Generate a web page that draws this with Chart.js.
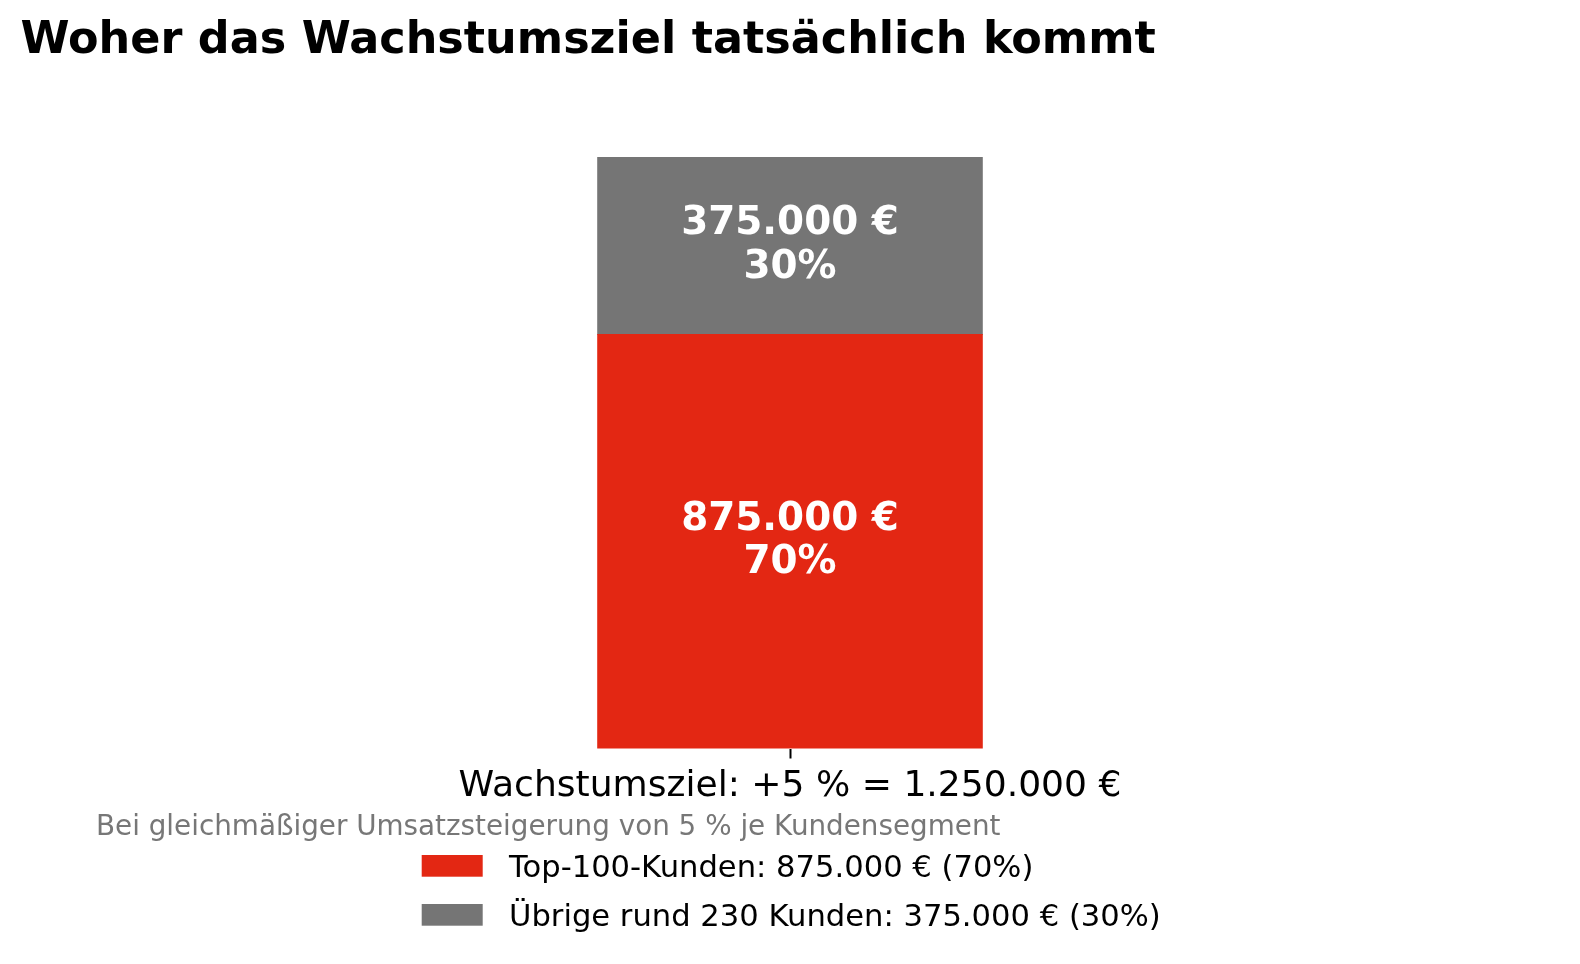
<!DOCTYPE html>
<html lang="de">
<head>
<meta charset="utf-8">
<title>Woher das Wachstumsziel tatsächlich kommt</title>
<script src="https://cdn.jsdelivr.net/npm/chart.js@4.4.1/dist/chart.umd.min.js"></script>
<style>
  html, body { margin: 0; padding: 0; background: #fff; overflow: hidden; }
  canvas { display: block; }
</style>
</head>
<body>
<canvas id="growthChart" width="1580" height="964"></canvas>
<script>
const chartTitle = 'Woher das Wachstumsziel tatsächlich kommt';
const chartNote = 'Bei gleichmäßiger Umsatzsteigerung von 5 % je Kundensegment';
const categories = ['Wachstumsziel: +5 % = 1.250.000 €'];
const segmentNames = ['Top-100-Kunden', 'Übrige rund 230 Kunden'];
const topCustomers = [875000];
const otherCustomers = [375000];
const segmentShares = [70, 30];
const axisMax = 1250000;

const RED = '#E32713';
const GREY = '#757575';
const FONT = '"DejaVu Sans", "Noto Sans", sans-serif';

// 875000 -> "875.000 €"
function euro(v) {
  return String(Math.round(v)).replace(/\B(?=(\d{3})+(?!\d))/g, '.') + ' €';
}

// value labels inside the bar segments
const segmentLabels = {
  id: 'segmentLabels',
  afterDatasetsDraw(chart) {
    const ctx = chart.ctx;
    ctx.save();
    ctx.fillStyle = '#fff';
    ctx.font = 'bold 38.9px ' + FONT;
    ctx.textAlign = 'center';
    ctx.textBaseline = 'alphabetic';
    chart.data.datasets.forEach((ds, i) => {
      const meta = chart.getDatasetMeta(i);
      meta.data.forEach((bar, j) => {
        const mid = (bar.y + bar.base) / 2;
        ctx.fillText(euro(ds.data[j]), bar.x, mid - 11.5);
        ctx.fillText(segmentShares[i] + '%', bar.x, mid + 32);
      });
    });
    ctx.restore();
  }
};

// title, note and legend
const frameText = {
  id: 'frameText',
  afterDraw(chart) {
    const ctx = chart.ctx;
    ctx.save();
    ctx.textAlign = 'left';
    ctx.textBaseline = 'alphabetic';

    ctx.fillStyle = '#000';
    ctx.font = 'bold 44.5px ' + FONT;
    ctx.fillText(chartTitle, 20.5, 52.7);

    ctx.fillStyle = '#777';
    ctx.font = '27.8px ' + FONT;
    ctx.fillText(chartNote, 96, 835);

    ctx.font = '30.6px ' + FONT;
    chart.data.datasets.forEach((ds, i) => {
      const top = 855 + i * 49;
      ctx.fillStyle = ds.backgroundColor;
      ctx.fillRect(421.7, top, 61, 21.7);
      ctx.fillStyle = '#000';
      ctx.fillText(ds.label + ': ' + euro(ds.data[0]) + ' (' + segmentShares[i] + '%)', 509, top + 22);
    });
    ctx.restore();
  }
};

const ctx = document.getElementById('growthChart').getContext('2d');
const growthChart = new Chart(ctx, {
  type: 'bar',
  data: {
    labels: categories,
    datasets: [
      { label: segmentNames[0], data: topCustomers, backgroundColor: RED },
      { label: segmentNames[1], data: otherCustomers, backgroundColor: GREY }
    ]
  },
  options: {
    responsive: false,
    devicePixelRatio: 1,
    animation: false,
    layout: { padding: { top: 157, left: 149, right: 149, bottom: 0 } },
    datasets: {
      bar: { barPercentage: 0.3, categoryPercentage: 1, borderWidth: 0, inflateAmount: 0.5 }
    },
    scales: {
      x: {
        stacked: true,
        border: { display: false },
        grid: {
          display: true,
          offset: false,
          drawOnChartArea: false,
          drawTicks: true,
          tickLength: 10,
          tickWidth: 2,
          tickColor: '#000'
        },
        ticks: { color: '#000', padding: 6.5, font: { family: FONT, size: 36.1 } },
        afterFit(scale) { scale.height = 964 - 748.5; }
      },
      y: {
        stacked: true,
        display: false,
        min: 0,
        max: axisMax
      }
    },
    plugins: {
      legend: { display: false },
      title: { display: false },
      tooltip: { enabled: false }
    }
  },
  plugins: [segmentLabels, frameText]
});
</script>
</body>
</html>
